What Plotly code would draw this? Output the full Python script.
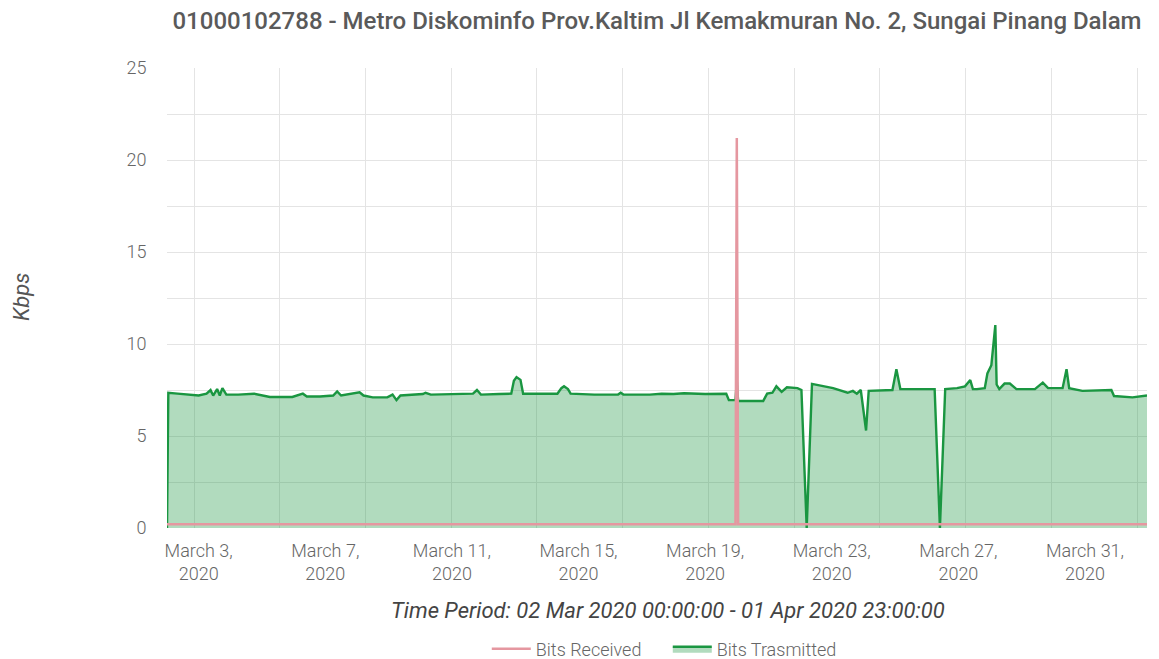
import plotly.graph_objects as go

# ---- data ----
tx_times = [
    "2020-03-02 00:00", "2020-03-02 01:00", "2020-03-02 08:00", "2020-03-02 16:00",
    "2020-03-03 00:00", "2020-03-03 06:00", "2020-03-03 09:00", "2020-03-03 11:00",
    "2020-03-03 14:00", "2020-03-03 16:00", "2020-03-03 18:00", "2020-03-03 21:00",
    "2020-03-04 06:00", "2020-03-04 18:00", "2020-03-05 06:00", "2020-03-05 23:00",
    "2020-03-06 07:00", "2020-03-06 10:00", "2020-03-06 20:00", "2020-03-07 06:00",
    "2020-03-07 09:00", "2020-03-07 12:00", "2020-03-07 22:00", "2020-03-08 02:00",
    "2020-03-08 05:00", "2020-03-08 12:00", "2020-03-08 23:00", "2020-03-09 03:00",
    "2020-03-09 06:00", "2020-03-09 09:00", "2020-03-10 02:00", "2020-03-10 04:00",
    "2020-03-10 08:00", "2020-03-11 06:00", "2020-03-11 16:00", "2020-03-11 19:00",
    "2020-03-11 22:00", "2020-03-12 12:00", "2020-03-12 21:00", "2020-03-12 23:00",
    "2020-03-13 01:00", "2020-03-13 04:00", "2020-03-13 06:00", "2020-03-14 08:00",
    "2020-03-14 11:00", "2020-03-14 13:00", "2020-03-14 16:00", "2020-03-14 18:00",
    "2020-03-15 12:00", "2020-03-16 06:00", "2020-03-16 08:00", "2020-03-16 10:00",
    "2020-03-17 06:00", "2020-03-17 15:00", "2020-03-18 00:00", "2020-03-18 08:00",
    "2020-03-19 00:00", "2020-03-19 16:00", "2020-03-19 18:00", "2020-03-19 23:00",
    "2020-03-20 00:00", "2020-03-20 01:00", "2020-03-20 20:00", "2020-03-20 23:00",
    "2020-03-21 03:00", "2020-03-21 06:00", "2020-03-21 10:00", "2020-03-21 14:00",
    "2020-03-21 22:00", "2020-03-22 01:00", "2020-03-22 05:00", "2020-03-22 09:00",
    "2020-03-23 01:00", "2020-03-23 12:00", "2020-03-23 16:00", "2020-03-23 19:00",
    "2020-03-23 22:00", "2020-03-24 02:00", "2020-03-24 04:00", "2020-03-24 22:00",
    "2020-03-25 01:00", "2020-03-25 04:00", "2020-03-26 06:00", "2020-03-26 10:00",
    "2020-03-26 14:00", "2020-03-26 23:00", "2020-03-27 05:00", "2020-03-27 09:00",
    "2020-03-27 11:00", "2020-03-27 14:00", "2020-03-27 20:00", "2020-03-27 22:00",
    "2020-03-28 01:00", "2020-03-28 04:00", "2020-03-28 05:00", "2020-03-28 07:00",
    "2020-03-28 11:00", "2020-03-28 15:00", "2020-03-28 20:00", "2020-03-29 10:00",
    "2020-03-29 16:00", "2020-03-29 20:00", "2020-03-29 23:00", "2020-03-30 07:00",
    "2020-03-30 10:00", "2020-03-30 12:00", "2020-03-30 22:00", "2020-03-31 20:00",
    "2020-03-31 22:00", "2020-04-01 12:00", "2020-04-01 23:00",
]
tx_values = [
    0.0, 7.35, 7.3, 7.25,
    7.2, 7.3, 7.5, 7.2,
    7.55, 7.2, 7.6, 7.25,
    7.25, 7.3, 7.12, 7.12,
    7.3, 7.15, 7.15, 7.2,
    7.42, 7.2, 7.3, 7.38,
    7.2, 7.1, 7.1, 7.25,
    6.95, 7.2, 7.28, 7.35,
    7.25, 7.3, 7.3, 7.5,
    7.25, 7.28, 7.3, 8.0,
    8.2, 8.05, 7.3, 7.3,
    7.6, 7.7, 7.55, 7.3,
    7.25, 7.25, 7.35, 7.25,
    7.25, 7.3, 7.28, 7.32,
    7.28, 7.3, 6.95, 6.95,
    8.0, 6.9, 6.9, 7.3,
    7.35, 7.7, 7.4, 7.65,
    7.6, 7.5, 0.0, 7.83,
    7.6, 7.35, 7.45, 7.3,
    7.5, 5.3, 7.45, 7.5,
    8.63, 7.55, 7.55, 0.0,
    7.55, 7.6, 7.7, 8.04,
    7.55, 7.55, 7.6, 8.4,
    8.85, 11.03, 7.8, 7.55,
    7.85, 7.85, 7.55, 7.55,
    7.9, 7.6, 7.6, 7.6,
    8.63, 7.6, 7.45, 7.5,
    7.17, 7.1, 7.2,
]

rx_times = [
    "2020-03-02 00:00", "2020-03-10 00:00", "2020-03-19 23:00", "2020-03-20 00:00",
    "2020-03-20 01:00", "2020-03-26 00:00", "2020-04-01 23:00",
]
rx_values = [0.2, 0.2, 0.2, 21.2, 0.2, 0.2, 0.2]

tick_dates = ["2020-03-03", "2020-03-07", "2020-03-11", "2020-03-15",
              "2020-03-19", "2020-03-23", "2020-03-27", "2020-03-31"]
tick_labels = ["March 3,<br>2020", "March 7,<br>2020", "March 11,<br>2020",
               "March 15,<br>2020", "March 19,<br>2020", "March 23,<br>2020",
               "March 27,<br>2020", "March 31,<br>2020"]
y_ticks = [0, 5, 10, 15, 20, 25]

title_text = ("01000102788 - Metro Diskominfo Prov.Kaltim Jl Kemakmuran No. 2, "
              "Sungai Pinang Dalam")
x_title = "Time Period: 02 Mar 2020 00:00:00 - 01 Apr 2020 23:00:00"
y_title = "Kbps"
x_range = ["2020-03-02 00:00", "2020-04-01 23:00"]
grid_start = "2020-03-02 20:30"
grid_step_ms = 65 * 3600 * 1000

# ---- figure ----
FONT = "Roboto, Arial, sans-serif"
GRID = "#e4e4e4"
W, H = 1151, 651  # page body has an 8px margin

fig = go.Figure()
fig.add_trace(go.Scatter(
    x=tx_times, y=tx_values, name="Bits Trasmitted", mode="lines",
    line=dict(color="#1a9641", width=2.4),
    fill="tozeroy", fillcolor="rgba(26,150,65,0.34)",
))
fig.add_trace(go.Scatter(
    x=rx_times, y=rx_values, name="Bits Received", mode="lines",
    line=dict(color="#e597a0", width=2.5),
))

fig.update_layout(
    width=W, height=H,
    margin=dict(l=159, r=12, t=60, b=131),
    paper_bgcolor="white", plot_bgcolor="white",
    font=dict(family=FONT, color="#666666"),
    title=dict(text=title_text, x=0.5, xref="paper", xanchor="center",
               y=1 - 13 / H, yref="container", yanchor="middle",
               font=dict(family=FONT, size=24, color="#5a5a5a", weight=500)),
    showlegend=True,
    legend=dict(orientation="h", x=0.511, xanchor="center",
                y=1 - 641 / H, yref="container", yanchor="middle",
                traceorder="reversed", entrywidth=127, entrywidthmode="pixels",
                font=dict(size=18, color="#666666", weight=300), itemwidth=39),
    xaxis=dict(type="date", range=x_range, showgrid=False, zeroline=False,
               showline=False, tickvals=tick_dates, ticktext=tick_labels,
               tickfont=dict(size=18, color="#666666", weight=300),
               ticks="outside", ticklen=6, tickcolor="rgba(0,0,0,0)",
               minor=dict(tickmode="linear", tick0=grid_start, dtick=grid_step_ms,
                          showgrid=True, gridcolor=GRID, ticks="")),
    yaxis=dict(range=[0, 25], tickvals=y_ticks, showgrid=True, gridcolor=GRID,
               zeroline=False, showline=False,
               ticks="outside", ticklen=16, tickcolor="rgba(0,0,0,0)",
               tickfont=dict(size=18, color="#666666", weight=300),
               minor=dict(dtick=2.5, showgrid=True, gridcolor=GRID, ticks="")),
    annotations=[
        dict(text=y_title, xref="paper", yref="paper",
             x=(21 - 167) / 980, y=0.502, xanchor="center",
             yanchor="middle", textangle=-90, showarrow=False,
             font=dict(size=22, color="#555555", style="italic")),
        dict(text=x_title, xref="paper", yref="paper",
             x=(668 - 167) / 980, y=(528 - 610) / 460, xanchor="center",
             yanchor="middle", showarrow=False,
             font=dict(size=22, color="#444444", style="italic")),
    ],
)

fig.write_html("out.html")
